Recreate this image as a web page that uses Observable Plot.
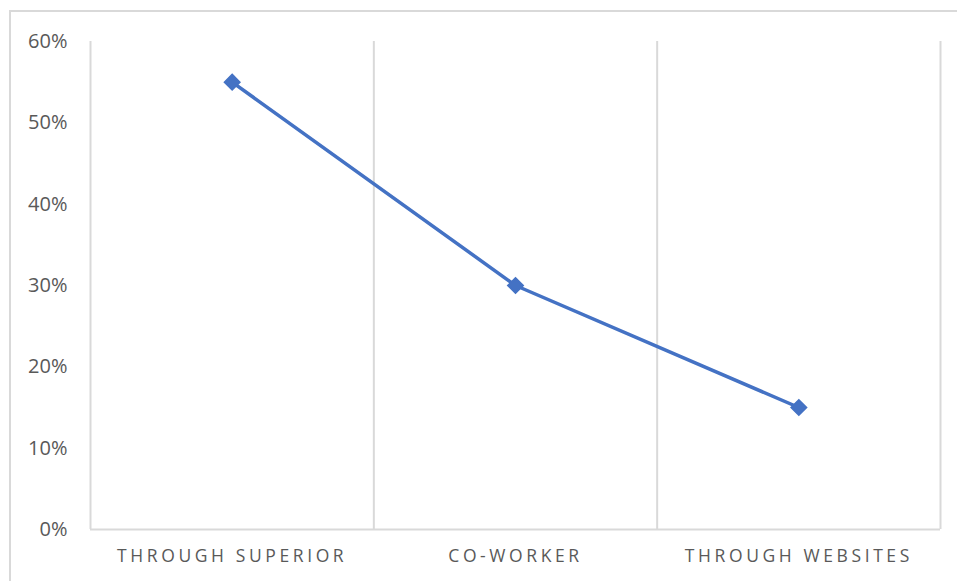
<!DOCTYPE html>
<html>
<head>
<meta charset="utf-8">
<script src="https://cdn.jsdelivr.net/npm/d3@7"></script>
<script src="https://cdn.jsdelivr.net/npm/@observablehq/plot@0.6"></script>
<style>
  html, body { margin: 0; padding: 0; background: #fff; }
  #wrap { position: relative; width: 957px; height: 581px; overflow: hidden; }
  #border { position: absolute; left: 9px; top: 10px; width: 970px; height: 620px; border: 2px solid #d9d9d9; box-sizing: border-box; pointer-events: none; }
  #chart { position: absolute; left: 0; top: 0; }
  #chart svg g[aria-label="x-axis tick label"] text { letter-spacing: 3.6px; }
</style>
</head>
<body>
<div id="wrap"><div id="chart"></div><div id="border"></div></div>
<script>
const categories = ["THROUGH SUPERIOR", "CO-WORKER", "THROUGH WEBSITES"];
const values = [0.55, 0.30, 0.15];
const yTicks = [0, 0.1, 0.2, 0.3, 0.4, 0.5, 0.6];

const data = categories.map((c, i) => ({i, c, v: values[i]}));
const bounds = d3.range(categories.length + 1).map(k => k - 0.5);

const blue = "#4472C4";
const grid = "#d9d9d9";

const chart = Plot.plot({
  width: 957,
  height: 581,
  marginLeft: 90,
  marginRight: 17,
  marginTop: 41,
  marginBottom: 52,
  style: {fontFamily: "'Open Sans', sans-serif", background: "transparent", color: "#595959"},
  x: {domain: [-0.5, categories.length - 0.5], axis: null},
  y: {domain: [0, 0.6], axis: null},
  marks: [
    Plot.ruleX(bounds, {x: d => d, y1: 0, y2: 0.6, stroke: grid, strokeWidth: 2}),
    Plot.ruleY([0], {stroke: grid, strokeWidth: 2}),
    Plot.axisY({ticks: yTicks, tickFormat: d => Math.round(d * 100) + "%", tickSize: 0, tickPadding: 23, fontSize: 20, fill: "#595959", label: null}),
    Plot.axisX({ticks: d3.range(categories.length), tickFormat: i => categories[i], tickSize: 0, tickPadding: 20, fontSize: 17.5, fill: "#595959", label: null}),
    Plot.line(data, {x: "i", y: "v", stroke: blue, strokeWidth: 3.5}),
    Plot.dot(data, {x: "i", y: "v", symbol: "diamond2", r: 7, fill: blue, stroke: blue, strokeWidth: 1.5})
  ]
});
document.getElementById("chart").appendChild(chart);
</script>
</body>
</html>
